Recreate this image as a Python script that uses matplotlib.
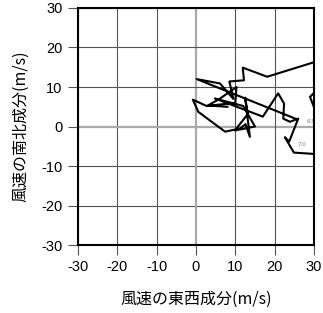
import numpy as np
import matplotlib
matplotlib.use('Agg')
import matplotlib.pyplot as plt

plt.rcParams['font.family'] = ['Liberation Sans', 'Noto Sans CJK JP', 'DejaVu Sans']

# hodograph (u, v) in m/s
u = [8.0, 3.0, 6.0, 10.3, 10.0, 2.7, -0.8, 0.6, 7.4, 11.2, 12.6, 13.7, 12.5, 13.2,
     9.9, 15.0, 12.0, 4.8, 17.0, 20.9, 22.4, 22.2, 23.9, 26.0, 23.7, 22.6, 24.9,
     31.0, 31.5, 29.0, 31.0, 34.0, 18.1, 11.9, 12.2, 8.5, 9.5, 6.1, 0.2, 25.5]
v = [5.0, 5.3, 7.0, 10.0, 6.0, 5.2, 6.8, 3.7, -1.3, -0.5, 0.6, -2.6, 7.3, 3.2,
     -1.0, 0.0, 5.2, 7.1, 2.5, 8.4, 5.8, 2.0, 1.2, 2.0, -3.8, -2.7, -6.6,
     -7.0, 1.0, 7.5, 9.5, 17.5, 12.6, 14.9, 11.7, 11.4, 7.0, 10.9, 12.0, 1.9]

# small level labels along the curve
lab_idx = [23, 24]
lab_txt = ['6.5', '7.0']

ticks = [-30, -20, -10, 0, 10, 20, 30]

fig = plt.figure(figsize=(3.23, 3.13), dpi=100)
ax = fig.add_axes([0.2415, 0.217, 0.7305, 0.7575])

for t in ticks:
    if t == 0:
        c, lw = '#aaaaaa', 1.6
    else:
        c, lw = '#555555', 0.8
    ax.axvline(t, color=c, lw=lw, zorder=1)
    ax.axhline(t, color=c, lw=lw, zorder=1)

ax.plot(u, v, '-', color='black', lw=1.5, zorder=3)

for i, s in zip(lab_idx, lab_txt):
    ax.annotate(s, (u[i], v[i]), xytext=(6, -3), textcoords='offset points',
                fontsize=4.5, color='#777777', zorder=4)

ax.set_xlim(-30, 30)
ax.set_ylim(-30, 30)
ax.set_xticks(ticks)
ax.set_yticks(ticks)
ax.set_xticklabels([str(t) for t in ticks])
ax.set_yticklabels([str(t) for t in ticks])
ax.tick_params(direction='out', length=7, width=0.8, color='#555555',
               labelsize=10.5, pad=4)
for sp in ax.spines.values():
    sp.set_linewidth(1.5)
    sp.set_color('black')
    sp.set_zorder(5)

ax.set_xlabel('風速の東西成分(m/s)', fontsize=11.5, labelpad=12,
              family=['Noto Sans CJK JP', 'DejaVu Sans'])
ax.set_ylabel('風速の南北成分(m/s)', fontsize=11.5, labelpad=9,
              family=['Noto Sans CJK JP', 'DejaVu Sans'])

fig.savefig('out.png', dpi=100)
